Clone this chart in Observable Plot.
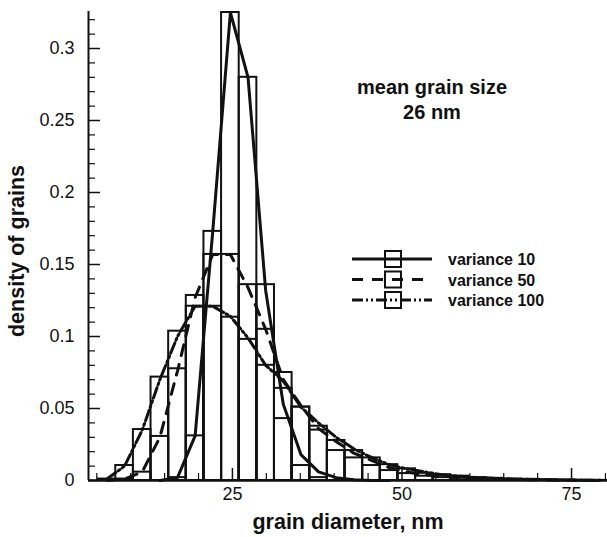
<!DOCTYPE html>
<html>
<head>
<meta charset="utf-8">
<script src="https://cdn.jsdelivr.net/npm/d3@7"></script>
<script src="https://cdn.jsdelivr.net/npm/@observablehq/plot@0.6"></script>
<style>
  html, body { margin: 0; padding: 0; background: #fff; }
  #wrap { position: relative; width: 607px; height: 537px; }
  #wrap svg.overlay { position: absolute; left: 0; top: 0; pointer-events: none; }
</style>
</head>
<body>
<div id="wrap"></div>
<script>
// ---- data ----
const binWidth = 2.6;
const binCenters = [6.5, 9.1, 11.7, 14.3, 16.9, 19.5, 22.1, 24.7, 27.3, 29.9, 32.5, 35.1, 37.7, 40.3, 42.9, 45.5, 48.1, 50.7, 53.3, 55.9, 58.5, 61.1, 63.7, 66.3, 68.9, 71.5, 74.1, 76.7, 79.3];

const var10Bars  = [0, 0, 0, 0, 0.002, 0.031, 0.173, 0.325, 0.28, 0.136, 0.043, 0.0104, 0.002, 0, 0, 0, 0, 0, 0, 0, 0, 0, 0, 0, 0, 0, 0, 0, 0];
const var50Bars  = [0, 0.001, 0.0058, 0.0306, 0.0776, 0.1285, 0.157, 0.157, 0.136, 0.105, 0.064, 0.051, 0.035, 0.0208, 0.0157, 0.0104, 0.0069, 0.0048, 0.003, 0.002, 0.0015, 0.001, 0.0007, 0.0005, 0.0003, 0.0002, 0.0001, 0, 0];
const var100Bars = [0.001, 0.0104, 0.0354, 0.0718, 0.1037, 0.121, 0.121, 0.1134, 0.098, 0.08, 0.075, 0.051, 0.0377, 0.0278, 0.0208, 0.0157, 0.011, 0.0081, 0.005, 0.004, 0.003, 0.002, 0.0015, 0.001, 0.0008, 0.0005, 0.0003, 0.0002, 0.0001];

const var10Curve  = [null, null, null, 0, 0.002, 0.031, 0.173, 0.325, 0.28, 0.132, 0.053, 0.018, 0.006, 0.002, 0.0005, 0, 0, null, null, null, null, null, null, null, null, null, null, null, null];
const var50Curve  = [0, 0.001, 0.006, 0.03, 0.076, 0.127, 0.157, 0.157, 0.134, 0.105, 0.07, 0.052, 0.036, 0.027, 0.019, 0.014, 0.009, 0.006, 0.004, 0.003, 0.002, 0.0015, 0.001, 0.0007, 0.0005, 0.0003, 0.0002, 0.0001, 0];
const var100Curve = [0.001, 0.01, 0.035, 0.07, 0.1, 0.121, 0.121, 0.114, 0.099, 0.08, 0.069, 0.051, 0.04, 0.03, 0.022, 0.016, 0.011, 0.008, 0.006, 0.004, 0.003, 0.002, 0.0015, 0.001, 0.0008, 0.0005, 0.0003, 0.0002, 0.0001];

const seriesNames = ["variance 10", "variance 50", "variance 100"];
const xMajorTicks = [25, 50, 75];
const xMinorTicks = [5, 10, 15, 20, 30, 35, 40, 45, 55, 60, 65, 70, 80];
const yMajorTicks = [0, 0.05, 0.1, 0.15, 0.2, 0.25, 0.3];
const yTickLabels = ["0", "0.05", "0.1", "0.15", "0.2", "0.25", "0.3"];
const yMinorTicks = [0.01, 0.02, 0.03, 0.04, 0.06, 0.07, 0.08, 0.09, 0.11, 0.12, 0.13, 0.14, 0.16, 0.17, 0.18, 0.19, 0.21, 0.22, 0.23, 0.24, 0.26, 0.27, 0.28, 0.29, 0.31, 0.32];
const xTitle = "grain diameter, nm";
const yTitle = "density of grains";
const noteLines = ["mean grain size", "26 nm"];

// ---- chart settings ----
const xDomain = [3.78, 80.3];
const yDomain = [0, 0.3257];
const W = 607, H = 537;
const mL = 88, mR = 0, mT = 11, mB = 57;
const frameW = W - mL - mR, frameH = H - mT - mB;
const FONT = "'Liberation Sans', Arial, Helvetica, sans-serif";
const dashes = [null, "11,9", "11,3,2,3,2,3"];

function barsOf(vals) {
  return binCenters.map((c, i) => ({x1: c - binWidth / 2, x2: c + binWidth / 2, y: vals[i]})).filter(d => d.y > 0);
}
function curveOf(vals) {
  return binCenters.map((c, i) => ({x: c, y: vals[i]})).filter(d => d.y != null);
}

const barSets = [var10Bars, var50Bars, var100Bars];
const curveSets = [var10Curve, var50Curve, var100Curve];

const marks = [];
barSets.forEach(v => marks.push(Plot.rect(barsOf(v), {x1: "x1", x2: "x2", y1: 0, y2: "y", fill: "none", stroke: "#111", strokeWidth: 2})));
curveSets.forEach((v, i) => marks.push(Plot.line(curveOf(v), {x: "x", y: "y", stroke: "#111", strokeWidth: 3, strokeDasharray: dashes[i], strokeLinejoin: "round"})));

// axes lines
marks.push(Plot.ruleY([0], {stroke: "#111", strokeWidth: 2.5}));
marks.push(Plot.ruleX([xDomain[0]], {stroke: "#111", strokeWidth: 2}));
// inward ticks
marks.push(Plot.ruleX(xMajorTicks, {stroke: "#111", strokeWidth: 1.5, insetTop: frameH - 12}));
marks.push(Plot.ruleX(xMinorTicks, {stroke: "#111", strokeWidth: 1.2, insetTop: frameH - 7}));
marks.push(Plot.ruleY(yMajorTicks, {stroke: "#111", strokeWidth: 1.5, insetRight: frameW - 12}));
marks.push(Plot.ruleY(yMinorTicks, {stroke: "#111", strokeWidth: 1.2, insetRight: frameW - 7}));
// tick labels
marks.push(Plot.axisX(xMajorTicks, {tickSize: 0, tickPadding: 7, fontSize: 18, label: null}));
marks.push(Plot.axisY(yMajorTicks, {tickSize: 0, tickPadding: 14, fontSize: 18, label: null,
  tickFormat: d => yTickLabels[yMajorTicks.indexOf(d)]}));
// axis titles
marks.push(Plot.text([xTitle], {frameAnchor: "bottom", dy: 42, fontSize: 21.5, fontWeight: "bold", lineAnchor: "middle", textAnchor: "middle"}));
marks.push(Plot.text([yTitle], {frameAnchor: "left", rotate: -90, dx: -71, dy: 5, fontSize: 21.5, fontWeight: "bold", lineAnchor: "middle", textAnchor: "middle"}));

const chart = Plot.plot({
  width: W, height: H,
  marginLeft: mL, marginRight: mR, marginTop: mT, marginBottom: mB,
  x: {domain: xDomain, axis: null},
  y: {domain: yDomain, axis: null},
  style: {fontFamily: FONT, color: "#111", background: "#fff", overflow: "visible"},
  marks
});
document.getElementById("wrap").appendChild(chart);

// ---- annotation and in-plot legend overlay ----
const ov = d3.select("#wrap").append("svg").attr("class", "overlay")
  .attr("width", W).attr("height", H)
  .style("font-family", FONT);

ov.append("text").attr("x", 432).attr("y", 94).attr("text-anchor", "middle")
  .attr("font-size", 20).attr("font-weight", "bold").attr("fill", "#111").text(noteLines[0]);
ov.append("text").attr("x", 432).attr("y", 119).attr("text-anchor", "middle")
  .attr("font-size", 20).attr("font-weight", "bold").attr("fill", "#111").text(noteLines[1]);

const rowY = [259, 279.5, 300];
seriesNames.forEach((name, i) => {
  const g = ov.append("g").attr("transform", `translate(0,${rowY[i]})`);
  g.append("line").attr("x1", 352).attr("x2", 432).attr("y1", 0).attr("y2", 0)
    .attr("stroke", "#111").attr("stroke-width", 3)
    .attr("stroke-dasharray", dashes[i]);
  g.append("rect").attr("x", 385).attr("y", -8).attr("width", 16).attr("height", 16)
    .attr("fill", "none").attr("stroke", "#111").attr("stroke-width", 2);
  g.append("text").attr("x", 448).attr("y", 6).attr("font-size", 16).attr("font-weight", "bold")
    .attr("fill", "#111").text(name);
});
</script>
</body>
</html>
